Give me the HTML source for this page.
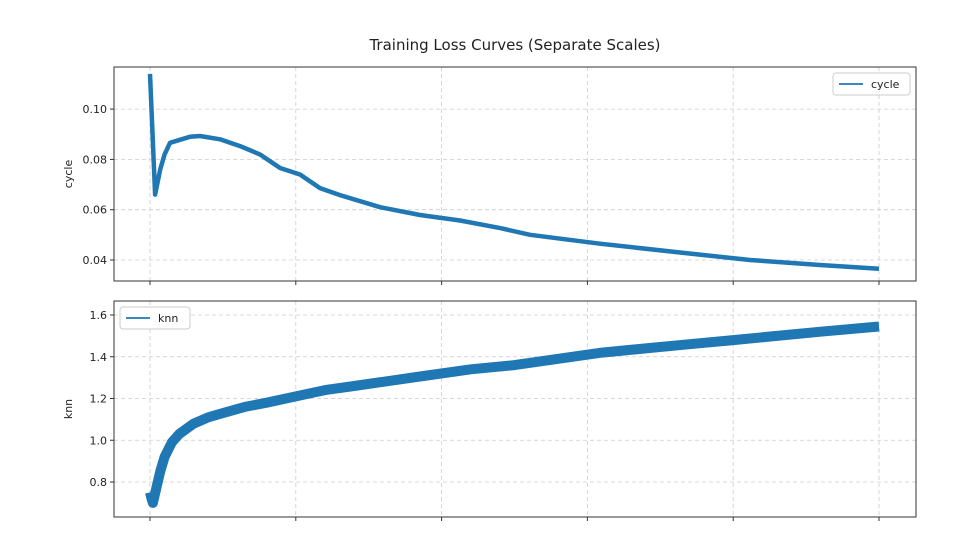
<!DOCTYPE html>
<html><head><meta charset="utf-8"><style>
body{margin:0;background:#fff;font-family:"DejaVu Sans","Liberation Sans",sans-serif}
svg{display:block}
</style></head><body>
<svg id="c" width="960" height="540" xmlns="http://www.w3.org/2000/svg">
<text x="515" y="50" text-anchor="middle" font-size="15" fill="#222">Training Loss Curves (Separate Scales)</text>
</svg>
<script>
const xTicks=[0,1000,2000,3000,4000,5000];
const cycleSteps=[0,35,70,100,137,274,343,480,617,754,892,1029,1166,1303,1578,1852,2126,2401,2606,3086,3635,4115,4595,5000];
const cycleVals=[0.114,0.066,0.076,0.082,0.0866,0.089,0.0893,0.088,0.0853,0.082,0.0766,0.074,0.0686,0.0658,0.061,0.0579,0.0557,0.0527,0.050,0.0465,0.043,0.040,0.038,0.0365];
const cycleTicks=[0.04,0.06,0.08,0.10];
const knnSteps=[0,10,20,40,70,100,150,200,300,400,500,650,800,1000,1200,1400,1600,1900,2200,2500,2800,3100,3400,3700,4000,4300,4600,5000];
const knnVals=[0.75,0.72,0.70,0.76,0.85,0.92,0.99,1.03,1.08,1.11,1.13,1.16,1.18,1.21,1.24,1.26,1.28,1.31,1.34,1.36,1.39,1.42,1.44,1.46,1.48,1.50,1.52,1.545];
const knnTicks=[0.8,1.0,1.2,1.4,1.6];
const NS="http://www.w3.org/2000/svg",svg=document.getElementById('c');
const L=114,R=916;
const xs=v=>150+(879-150)*v/5000;
function mk(t,a,p){const e=document.createElementNS(NS,t);for(const k in a)e.setAttribute(k,a[k]);(p||svg).appendChild(e);return e;}
function panel(top,bot,ys,ticks,fmt,steps,vals,name,sw,legendLeft){
  const g=mk('g',{});
  
  
  xTicks.forEach(t=>{mk('line',{x1:xs(t),x2:xs(t),y1:top,y2:bot,stroke:'#ccc','stroke-dasharray':'4,3','stroke-width':0.8},g);
    mk('line',{x1:xs(t),x2:xs(t),y1:bot,y2:bot+4,stroke:'#333'},g);});
  ticks.forEach(t=>{const y=ys(t);mk('line',{x1:L,x2:R,y1:y,y2:y,stroke:'#ccc','stroke-dasharray':'4,3','stroke-width':0.8},g);
    mk('line',{x1:L-4,x2:L,y1:y,y2:y,stroke:'#333'},g);
    const tx=mk('text',{x:L-7,y:y+4,'text-anchor':'end','font-size':11,fill:'#222'},g);tx.textContent=fmt(t);
    
    });
  const d=steps.map((s,i)=>(i?'L':'M')+xs(s).toFixed(1)+','+ys(vals[i]).toFixed(1)).join(' ');
  const p=mk('path',{d:d,fill:'none',stroke:'#1f77b4','stroke-width':sw,'stroke-linejoin':'round'},g);
  
  
  mk('rect',{x:L,y:top,width:R-L,height:bot-top,fill:'none',stroke:'#333','stroke-width':1},g);
  const yl=mk('text',{x:0,y:0,'text-anchor':'middle','font-size':11,fill:'#222',transform:`translate(72,${(top+bot)/2}) rotate(-90)`},g);yl.textContent=name;
  
  
  const lx=legendLeft?120:833,ly=top+6;
  const lg=mk('g',{},g);
  
  
  mk('rect',{x:lx,y:ly,width:legendLeft?70:77,height:22,rx:3,fill:'#fff',stroke:'#ccc'},lg);
  mk('line',{x1:lx+6,x2:lx+30,y1:ly+11,y2:ly+11,stroke:'#1f77b4','stroke-width':1.8},lg);
  const lt=mk('text',{x:lx+38,y:ly+15,'font-size':11,fill:'#222'},lg);lt.textContent=name;
}
panel(67,281,v=>260-(v-0.04)*2515,cycleTicks,t=>t.toFixed(2),cycleSteps,cycleVals,'cycle',4.5,false);
panel(301,517,v=>482-(v-0.8)*208.75,knnTicks,t=>t.toFixed(1),knnSteps,knnVals,'knn',10,true);
</script>
</body></html>
